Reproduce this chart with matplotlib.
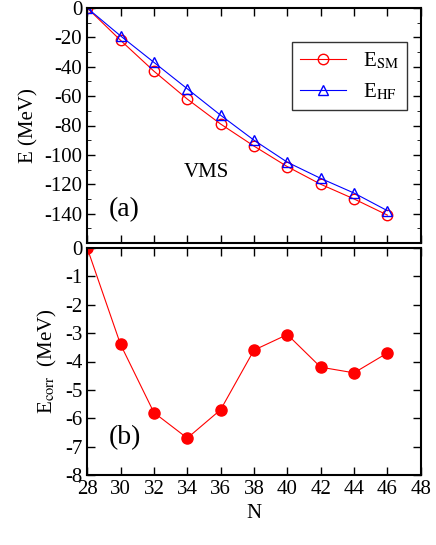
import matplotlib
matplotlib.use("Agg")
import matplotlib.pyplot as plt
from matplotlib.ticker import MultipleLocator, FixedLocator

plt.rcParams['font.family'] = ['Liberation Serif', 'DejaVu Serif']
plt.rcParams['mathtext.fontset'] = 'stix'
plt.rcParams['axes.unicode_minus'] = False

N = [28, 30, 32, 34, 36, 38, 40, 42, 44, 46]
E_SM = [0, -22, -43, -62, -79, -94, -108, -120, -130, -141]
E_HF = [0, -19, -37, -55, -73, -90, -105, -116, -126, -138]
E_corr = [0, -3.4, -5.8, -6.7, -5.7, -3.6, -3.05, -4.2, -4.4, -3.7]
top_yticks = [0, -20, -40, -60, -80, -100, -120, -140]

fig = plt.figure(figsize=(4.36, 5.45), dpi=100)
ax1 = fig.add_axes([0.2, 1 - 243/545, 0.765, (243 - 8)/545])
ax2 = fig.add_axes([0.2, 1 - 475/545, 0.765, (475 - 248)/545])

ax1.plot(N, E_SM, '-', color='red', lw=0.8, marker='o', ms=7.5, mfc='none', mec='red', label=r'E$_{\rm SM}$')
ax1.plot(N, E_HF, '-', color='blue', lw=0.8, marker='^', ms=7.5, mfc='none', mec='blue', label=r'E$_{\rm HF}$')
ax1.set_ylim(-160, 0)
ax1.set_xlim(28, 48)
ax1.yaxis.set_major_locator(FixedLocator(top_yticks))
ax1.yaxis.set_minor_locator(MultipleLocator(10))
ax1.xaxis.set_major_locator(MultipleLocator(2))
ax1.set_xticklabels([])
ax1.set_ylabel('E (MeV)', fontsize=15)
ax1.text(29.3, -142, '(a)', fontsize=20)
ax1.text(33.8, -115, 'VMS', fontsize=15)
leg = ax1.legend(loc='upper right', bbox_to_anchor=(0.99, 0.9), fontsize=15, frameon=True, fancybox=False,
                 edgecolor='black', handlelength=2.2)
leg.get_frame().set_linewidth(1.0)

ax2.plot(N, E_corr, '-', color='red', lw=0.8, marker='o', ms=8, mfc='red', mec='red')
ax2.set_ylim(-8, 0)
ax2.set_xlim(28, 48)
ax2.yaxis.set_major_locator(MultipleLocator(1))
ax2.xaxis.set_major_locator(MultipleLocator(2))
ax2.set_ylabel(r'E$_{\rm corr}$  (MeV)', fontsize=15)
ax2.set_xlabel('N', fontsize=15)
ax2.text(29.3, -6.9, '(b)', fontsize=20)

for ax in (ax1, ax2):
    ax.tick_params(direction='in', which='both', top=True, right=True, labelsize=15)
    ax.tick_params(which='major', length=6, width=1)
    ax.tick_params(which='minor', length=3)
    for s in ax.spines.values():
        s.set_linewidth(1.5)

fig.savefig('out.png', dpi=100)
